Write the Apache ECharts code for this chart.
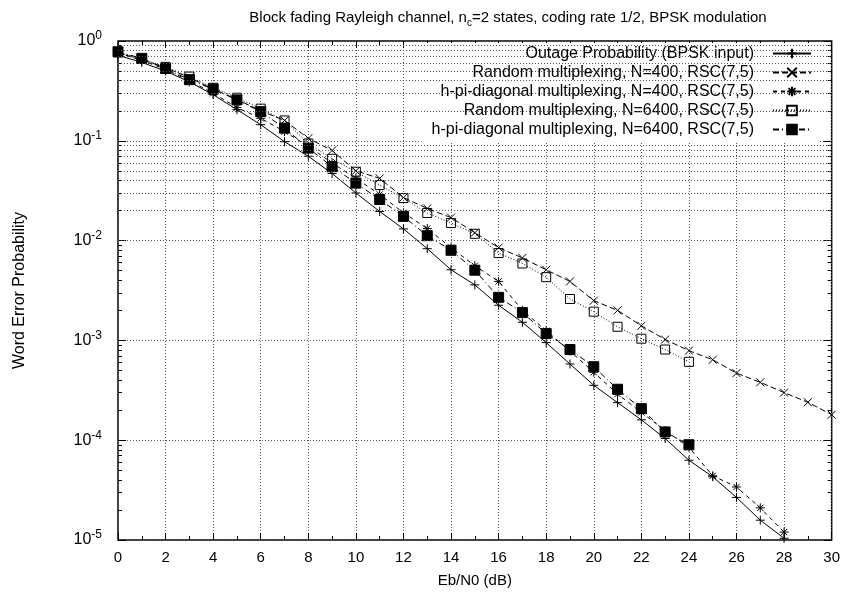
<!DOCTYPE html>
<html>
<head>
<meta charset="utf-8">
<script src="https://cdn.jsdelivr.net/npm/echarts@6/dist/echarts.min.js"></script>
<style>
  html, body { margin: 0; padding: 0; background: #fff; }
  #chart { width: 843px; height: 593px; }
</style>
</head>
<body>
<div id="chart"></div>
<script>
// Eb/N0 (dB) values, one per measured point
const ebn0 = [0, 1, 2, 3, 4, 5, 6, 7, 8, 9, 10, 11, 12, 13, 14, 15, 16, 17, 18, 19, 20,
  21, 22, 23, 24, 25, 26, 27, 28, 29, 30];

const outage = [0.72, 0.61, 0.50, 0.39, 0.29, 0.205, 0.145, 0.098, 0.070, 0.047, 0.030,
  0.0196, 0.0131, 0.0083, 0.0051, 0.0036, 0.00225, 0.00152, 0.00095, 0.00058, 0.000355,
  0.000238, 0.00016, 0.000104, 0.000063, 0.000043, 0.0000267, 0.0000158, 0.0000104];

const random400 = [0.76, 0.65, 0.54, 0.43, 0.33, 0.26, 0.20, 0.16, 0.106, 0.080, 0.050,
  0.042, 0.027, 0.021, 0.017, 0.012, 0.0085, 0.0067, 0.0051, 0.0039, 0.0025,
  0.0020, 0.0014, 0.00102, 0.00079, 0.00064, 0.00047, 0.00038, 0.00030, 0.00024, 0.00018];

const hpi400 = [0.76, 0.64, 0.52, 0.40, 0.30, 0.215, 0.168, 0.124, 0.088, 0.060, 0.042,
  0.029, 0.019, 0.0132, 0.0085, 0.0056, 0.0039, 0.0020, 0.00125, 0.00078, 0.00048,
  0.00029, 0.00019, 0.000125, 0.000085, 0.000044, 0.000034, 0.000021, 0.000012];

const random6400 = [0.77, 0.66, 0.55, 0.44, 0.34, 0.27, 0.21, 0.16, 0.094, 0.066, 0.049,
  0.036, 0.0267, 0.0189, 0.015, 0.0117, 0.0075, 0.0059, 0.0043, 0.0026, 0.00194,
  0.00137, 0.00104, 0.00081, 0.00061];

const hpi6400 = [0.78, 0.67, 0.53, 0.41, 0.33, 0.257, 0.196, 0.134, 0.0845, 0.055, 0.0377,
  0.0258, 0.0175, 0.0112, 0.0080, 0.00505, 0.0027, 0.0019, 0.00117, 0.00081, 0.000545,
  0.000324, 0.000207, 0.000121, 0.00009];

const legendNames = [
  "Outage Probability (BPSK input)",
  "Random multiplexing, N=400, RSC(7,5)",
  "h-pi-diagonal multiplexing, N=400, RSC(7,5)",
  "Random multiplexing, N=6400, RSC(7,5)",
  "h-pi-diagonal multiplexing, N=6400, RSC(7,5)",
];

// decades for y labels, and the 2..9 minor lines of every decade
const decades = [1e-5, 1e-4, 1e-3, 1e-2, 1e-1, 1];
const minorGrid = [];
for (let k = -5; k < 0; k++) {
  for (let m = 2; m <= 9; m++) minorGrid.push(+(m * Math.pow(10, k)).toPrecision(3));
}

const FONT = "Liberation Sans";
const plusPath = "path://M5 0L5 10M0 5L10 5";
const crossPath = "path://M0 0L10 10M10 0L0 10";
const starPath = "path://M5 0L5 10M0 5L10 5M1.5 1.5L8.5 8.5M8.5 1.5L1.5 8.5";

function pairs(values) {
  return values.map((v, i) => [ebn0[i], v]);
}

function lineSeries(name, values, symbol, size, dash, filled) {
  return {
    name: name,
    type: "line",
    data: pairs(values),
    symbol: symbol,
    symbolSize: size,
    showAllSymbol: true,
    z: 3,
    lineStyle: { color: "#000", width: 1, type: dash },
    itemStyle: {
      color: filled ? "#000" : "rgba(0,0,0,0)",
      borderColor: "#000",
      borderWidth: 1,
    },
    emphasis: { disabled: true },
    animation: false,
  };
}

const chart = echarts.init(document.getElementById("chart"));

const series = [
  lineSeries(legendNames[0], outage, plusPath, 9, "solid", false),
  lineSeries(legendNames[1], random400, crossPath, 8, [6, 3], false),
  lineSeries(legendNames[2], hpi400, starPath, 9, [4, 4], false),
  lineSeries(legendNames[3], random6400, "rect", 9, [1, 2], false),
  lineSeries(legendNames[4], hpi6400, "rect", 10, [6, 3, 1, 3], true),
];

// minor horizontal grid lines (2..9 x 10^k) drawn through the log axis
series[0].markLine = {
  silent: true,
  symbol: "none",
  label: { show: false },
  animation: false,
  lineStyle: { color: "#555", width: 1, type: [1, 2] },
  data: minorGrid.map((v) => ({ yAxis: v })),
};

const yBase = {
  type: "log",
  logBase: 10,
  min: 1e-5,
  max: 1,
  gridIndex: 0,
};

chart.setOption({
  backgroundColor: "#fff",
  animation: false,
  title: {
    text: "Block fading Rayleigh channel, n{sub|c}=2 states, coding rate 1/2, BPSK modulation",
    left: 503,
    top: 3,
    textAlign: "center",
    textStyle: {
      fontFamily: FONT,
      fontSize: 15,
      fontWeight: "normal",
      color: "#000",
      lineHeight: 20,
      rich: {
        sub: { fontFamily: FONT, fontSize: 10, lineHeight: 10, verticalAlign: "bottom", color: "#000" },
      },
    },
  },
  grid: {
    left: 118,
    right: 11,
    top: 41,
    bottom: 52,
    show: true,
    borderColor: "#000",
    borderWidth: 1.5,
    backgroundColor: "#fff",
  },
  legend: {
    data: legendNames,
    orient: "vertical",
    align: "right",
    right: 23,
    top: 43,
    itemWidth: 38,
    itemHeight: 12,
    itemGap: 0,
    padding: [1, 8, 3, 10],
    backgroundColor: "#fff",
    selectedMode: false,
    textStyle: {
      fontFamily: FONT,
      fontSize: 16,
      lineHeight: 19,
      color: "#000",
      padding: [0, 14, 0, 0],
    },
  },
  xAxis: [
    {
      type: "value",
      position: "bottom",
      min: 0,
      max: 30,
      interval: 2,
      name: "Eb/N0 (dB)",
      nameLocation: "middle",
      nameGap: 33,
      nameTextStyle: { fontFamily: FONT, fontSize: 15, color: "#000" },
      axisLine: { show: false },
      axisTick: { inside: true, length: 7, lineStyle: { color: "#000" } },
      minorTick: { show: true, splitNumber: 2, length: 4, lineStyle: { color: "#000" } },
      axisLabel: { fontFamily: FONT, fontSize: 15, color: "#000", margin: 10 },
      splitLine: { show: true, lineStyle: { color: "#555", width: 1, type: [1, 2] } },
    },
    {
      type: "value",
      position: "top",
      min: 0,
      max: 30,
      interval: 2,
      axisLine: { show: false },
      axisTick: { inside: true, length: 7, lineStyle: { color: "#000" } },
      minorTick: { show: true, splitNumber: 2, length: 4, lineStyle: { color: "#000" } },
      axisLabel: { show: false },
      splitLine: { show: false },
    },
  ],
  yAxis: [
    Object.assign({}, yBase, {
      position: "left",
      name: "Word Error Probability",
      nameLocation: "middle",
      nameGap: 90,
      nameTextStyle: { fontFamily: FONT, fontSize: 16, color: "#000" },
      axisLine: { show: false },
      axisTick: { inside: true, length: 8, lineStyle: { color: "#000" } },
      axisLabel: {
        margin: 16,
        formatter: (v) => "10{sup|" + Math.round(Math.log10(v)) + "}",
        rich: {
          sup: { fontFamily: FONT, fontSize: 12, lineHeight: 12, verticalAlign: "top", color: "#000" },
        },
        fontFamily: FONT,
        fontSize: 16,
        lineHeight: 22,
        color: "#000",
      },
      splitLine: { show: true, lineStyle: { color: "#555", width: 1, type: [1, 2] } },
    }),
    Object.assign({}, yBase, {
      position: "left",
      axisLine: { show: false },
      axisLabel: { show: false },
      splitLine: { show: false },
      axisTick: { inside: true, length: 4, customValues: minorGrid, lineStyle: { color: "#000" } },
    }),
    Object.assign({}, yBase, {
      position: "right",
      axisLine: { show: false },
      axisLabel: { show: false },
      splitLine: { show: false },
      axisTick: { inside: true, length: 8, customValues: decades, lineStyle: { color: "#000" } },
    }),
    Object.assign({}, yBase, {
      position: "right",
      axisLine: { show: false },
      axisLabel: { show: false },
      splitLine: { show: false },
      axisTick: { inside: true, length: 4, customValues: minorGrid, lineStyle: { color: "#000" } },
    }),
  ],
  series: series,
});

window.addEventListener("resize", () => {
  chart && chart.resize();
});
</script>
</body>
</html>
